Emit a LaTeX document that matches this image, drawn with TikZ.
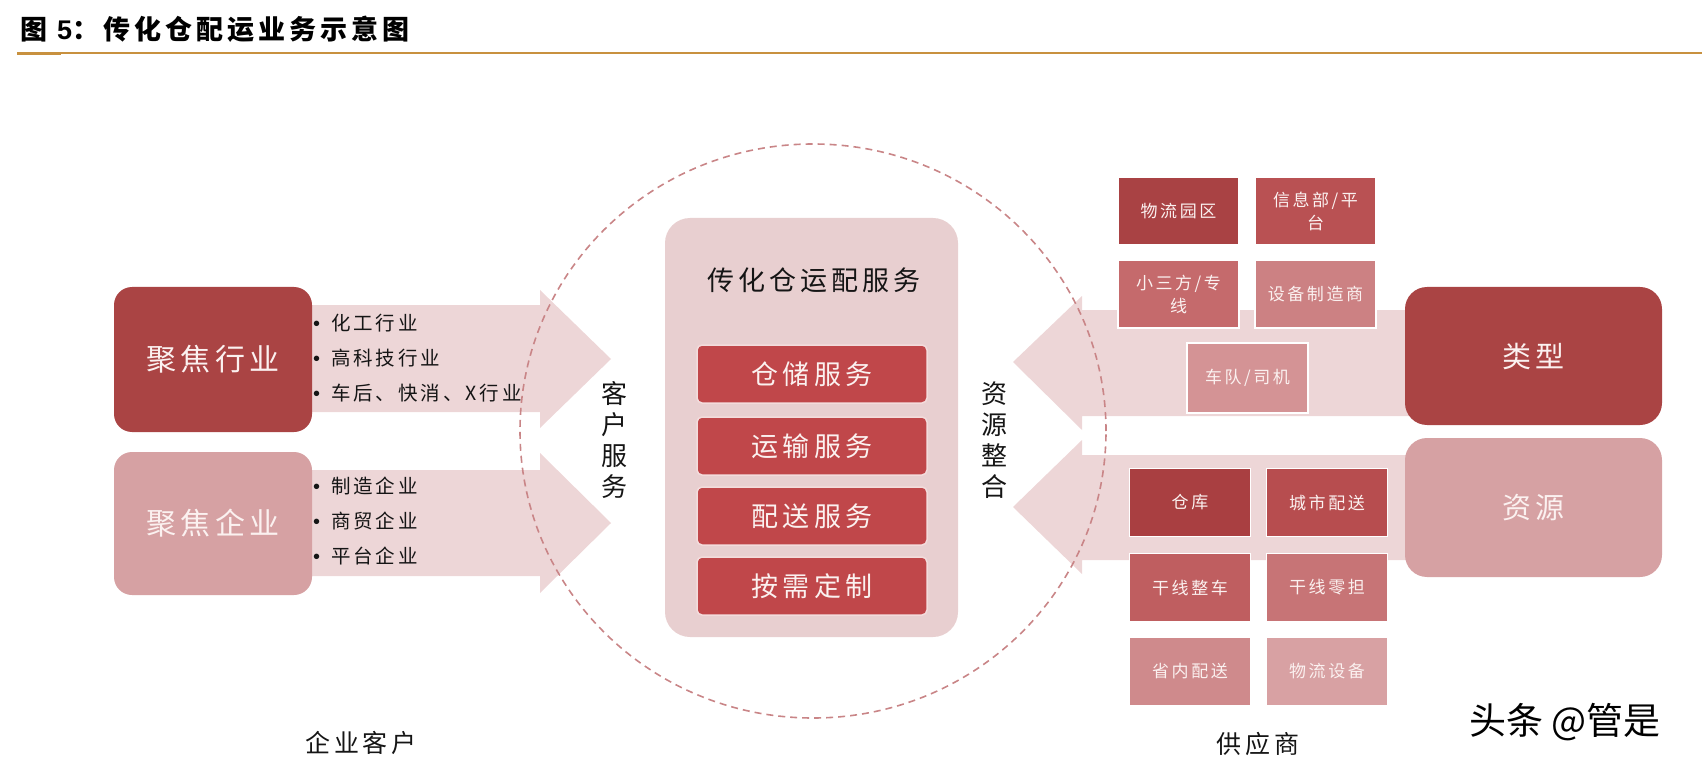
\documentclass[tikz,border=0pt]{standalone}
\usepackage{fontspec}
\setmainfont{Noto Sans CJK SC}
\newfontfamily\cjk[LetterSpace=15]{Noto Sans CJK SC}
\newfontfamily\cjkplain{Noto Sans CJK SC}
\newfontfamily\arialf{Liberation Sans}
\definecolor{gold}{HTML}{C8913F}
\definecolor{darkred}{HTML}{AA4444}
\definecolor{lightred}{HTML}{D6A1A3}
\definecolor{arrowpink}{HTML}{EDD6D7}
\definecolor{centerpink}{HTML}{E8CFD0}
\definecolor{innerred}{HTML}{C0474A}
\definecolor{innerborder}{HTML}{F3DCDC}
\definecolor{boxtxt}{HTML}{FBF1F0}
\definecolor{circcol}{HTML}{C98587}
\definecolor{txtblack}{HTML}{151515}
\definecolor{rA}{HTML}{A94244}
\definecolor{rB}{HTML}{B95153}
\definecolor{rC}{HTML}{C56A6C}
\definecolor{rD}{HTML}{CC8183}
\definecolor{rE}{HTML}{D49395}
\definecolor{sA}{HTML}{A93F41}
\definecolor{sB}{HTML}{B74D4F}
\definecolor{sC}{HTML}{BF5E60}
\definecolor{sD}{HTML}{C77476}
\definecolor{sE}{HTML}{CF8A8C}
\definecolor{sF}{HTML}{D8A1A3}
\newcommand{\bul}{{\arialf\fontsize{20}{20}\selectfont •}\kern 11pt}
\begin{document}
\begin{tikzpicture}[x=1pt,y=-1pt,
  every node/.style={inner sep=0pt, outer sep=0pt},
  blockarrow/.style={fill=arrowpink, draw=none},
  lbox/.style={rectangle, rounded corners=18pt, minimum width=198pt, minimum height=145pt, text=boxtxt, font=\cjk\fontsize{30}{34}\selectfont},
  tbox/.style={rectangle, rounded corners=22pt, minimum width=257pt, minimum height=138pt, text=boxtxt, font=\cjk\fontsize{29}{34}\selectfont},
  sbox/.style={rectangle, draw=white, line width=1.5pt, minimum width=121pt, minimum height=68pt, text=boxtxt, align=center, font=\cjk\fontsize{17}{23}\selectfont},
  ibox/.style={rectangle, rounded corners=5pt, draw=innerborder, line width=1.5pt, fill=innerred, minimum width=230pt, minimum height=58pt, text=boxtxt, font=\cjk\fontsize{27}{32}\selectfont},
  bullets/.style={align=left, text=txtblack, font=\cjk\fontsize{19.5}{35}\selectfont},
  vtext/.style={align=center, text=txtblack, font=\cjkplain\fontsize{26}{31}\selectfont},
  label/.style={text=txtblack, font=\cjk\fontsize{25}{30}\selectfont},
  circ/.style={draw=circcol, line width=1.6pt, dash pattern=on 7pt off 5pt}
]
\useasboundingbox (0,0) rectangle (1702,767);
% title
\node[anchor=west, text=black, font=\cjk\fontsize{27}{32}\selectfont\bfseries] (title) at (20,29) {图 {\arialf\bfseries 5}：传化仓配运业务示意图};
\fill[gold] (17,52) rectangle (1702,54);
\fill[gold] (17,52) rectangle (61,55.5);
% left block arrows
\path[blockarrow] (300,305) -- (540,305) -- (540,290) -- (611,359) -- (540,428) -- (540,412) -- (300,412) -- cycle;
\path[blockarrow] (300,470) -- (540,470) -- (540,453) -- (611,523) -- (540,593) -- (540,576) -- (300,576) -- cycle;
% right block arrows
\path[blockarrow] (1420,310) -- (1082,310) -- (1082,296) -- (1013,362) -- (1082,430) -- (1082,416) -- (1420,416) -- cycle;
\path[blockarrow] (1420,455) -- (1082,455) -- (1082,440) -- (1013,507) -- (1082,574) -- (1082,560) -- (1420,560) -- cycle;
% left boxes
\node[lbox, fill=darkred] (ind) at (213,359.5) {聚焦行业};
\node[lbox, fill=lightred, minimum height=143pt] (ent) at (213,523.5) {聚焦企业};
\node[bullets, anchor=west] (indlist) at (313,358) {\bul 化工行业\\\bul 高科技行业\\\bul 车后、快消、X行业};
\node[bullets, anchor=west] (entlist) at (313,521) {\bul 制造企业\\\bul 商贸企业\\\bul 平台企业};
% center
\node[rectangle, rounded corners=25pt, fill=centerpink, minimum width=293pt, minimum height=419pt] (center) at (811.5,427.5) {};
\node[text=txtblack, font=\cjk\fontsize{27}{32}\selectfont] (ctitle) at (814,280) {传化仓运配服务};
\node[ibox] (s1) at (812,374) {仓储服务};
\node[ibox] (s2) at (812,446) {运输服务};
\node[ibox] (s3) at (812,516) {配送服务};
\node[ibox] (s4) at (812,586) {按需定制};
% right big boxes
\node[tbox, fill=darkred] (type) at (1533.5,356) {类型};
\node[tbox, fill=lightred, minimum height=139pt] (res) at (1533.5,507.5) {资源};
% right small boxes upper
\node[sbox, fill=rA] (b1) at (1178.5,211) {物流园区};
\node[sbox, fill=rB] (b2) at (1315.5,211) {信息部/平\\台};
\node[sbox, fill=rC] (b3) at (1178.5,294) {小三方/专\\线};
\node[sbox, fill=rD] (b4) at (1315.5,294) {设备制造商};
\node[sbox, fill=rE, minimum height=70pt] (b5) at (1247.5,378) {车队/司机};
% right small boxes lower
\node[sbox, fill=sA] (c1) at (1190,502.5) {仓库};
\node[sbox, fill=sB] (c2) at (1327,502.5) {城市配送};
\node[sbox, fill=sC] (c3) at (1190,587.5) {干线整车};
\node[sbox, fill=sD] (c4) at (1327,587.5) {干线零担};
\node[sbox, fill=sE] (c5) at (1190,671.5) {省内配送};
\node[sbox, fill=sF] (c6) at (1327,671.5) {物流设备};
% dashed circle
\draw[circ] (813,431) ellipse [x radius=293pt, y radius=287pt];
% vertical labels
\node[vtext] (cs) at (614,440) {客\\户\\服\\务};
\node[vtext] (ri) at (994,440) {资\\源\\整\\合};
% bottom labels
\node[label] (kehu) at (361,743) {企业客户};
\node[label] (gys) at (1258,744) {供应商};
\node[text=black, font=\cjkplain\fontsize{37}{42}\selectfont] (wm) at (1565,722) {头条 @管是};
\end{tikzpicture}
\end{document}
